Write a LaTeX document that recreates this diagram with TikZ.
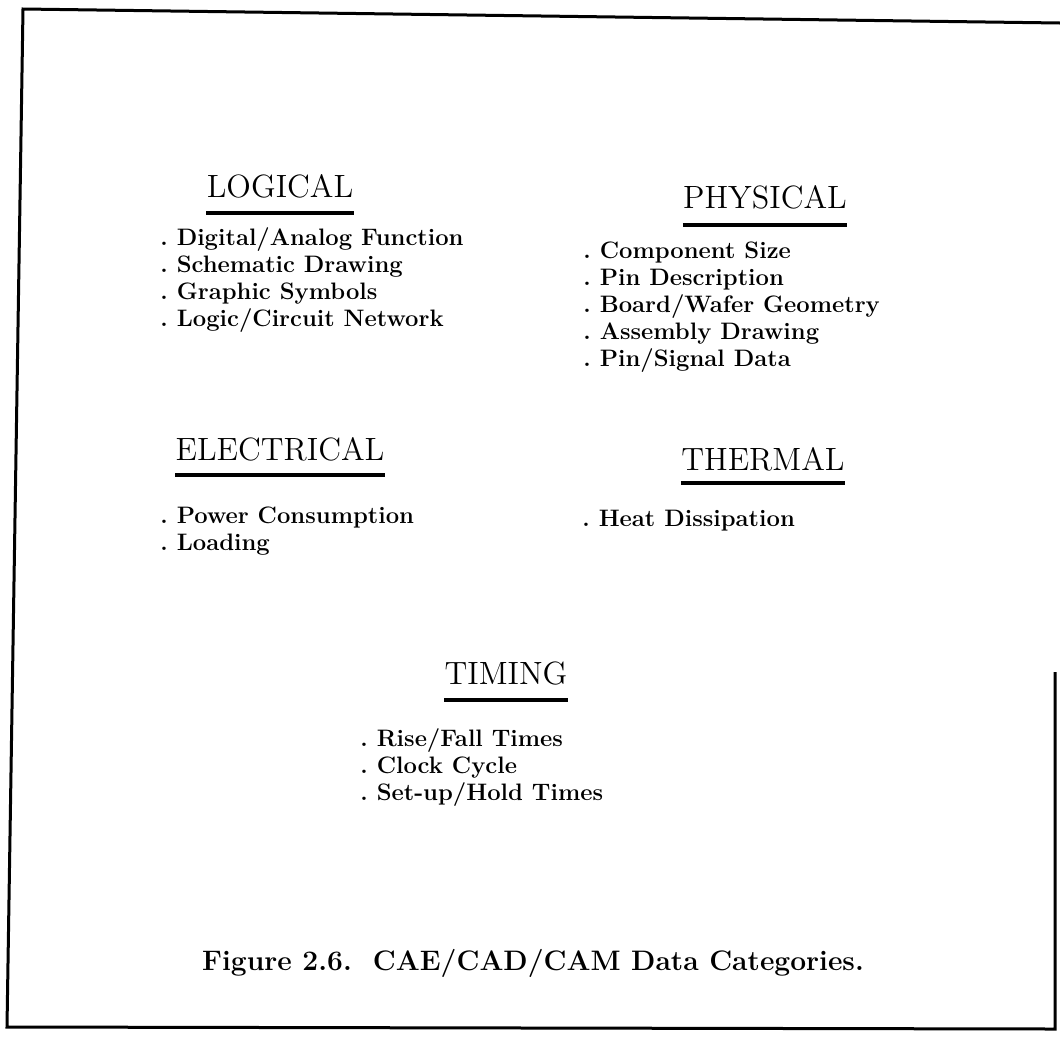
\documentclass[tikz,border=0pt]{standalone}
\usepackage{fontspec}
\newfontfamily\headfont{lmroman12-regular.otf}
\begin{document}
\begin{tikzpicture}[x=0.5pt,y=-0.5pt,
  frame/.style={line width=1.5pt,line join=miter},
  head/.style={anchor=base,inner sep=0pt,font=\headfont\fontsize{16.1}{19}\selectfont},
  rule/.style={line width=1.7pt},
  entry/.style={anchor=base west,inner sep=0pt,font=\bfseries\fontsize{11.9}{14}\selectfont},
  caption/.style={anchor=base,inner sep=0pt,font=\bfseries\fontsize{14.1}{17}\selectfont}]
\useasboundingbox (0,0) rectangle (1060,1040);

% outer frame (right side only partly drawn)
\draw[frame] (1060,23) -- (23,9) -- (7,1027) -- (1055,1029) -- (1055,672);

% category headings with their rules
\node[head] (hlog)  at (280,197) {LOGICAL};
\node[head] (hphy)  at (765,208) {PHYSICAL};
\node[head] (hele)  at (280,460) {ELECTRICAL};
\node[head] (hthe)  at (763,470) {THERMAL};
\node[head] (htim)  at (506,684) {TIMING};
\foreach \h/\d in {hlog/16,hphy/17,hele/15,hthe/13,htim/16}
  \draw[rule] ([yshift=-\d*0.5pt]\h.base west) -- ([yshift=-\d*0.5pt]\h.base east);

% item lists
\foreach \t [count=\i] in {Digital/Analog Function,Schematic Drawing,Graphic Symbols,Logic/Circuit Network}
  \node[entry] (log\i) at (160,245+27*\i-27) {.\ \t};
\foreach \t [count=\i] in {Component Size,Pin Description,Board/Wafer Geometry,Assembly Drawing,Pin/Signal Data}
  \node[entry] (phy\i) at (583,258+27*\i-27) {.\ \t};
\foreach \t [count=\i] in {Power Consumption,Loading}
  \node[entry] (ele\i) at (160,523+27*\i-27) {.\ \t};
\node[entry] (the1) at (582,526) {.\ Heat Dissipation};
\foreach \t [count=\i] in {Rise/Fall Times,Clock Cycle,Set-up/Hold Times}
  \node[entry] (tim\i) at (360,746+27*\i-27) {.\ \t};

% caption
\node[caption] (cap) at (533,970) {Figure 2.6.\ \ CAE/CAD/CAM Data Categories.};
\end{tikzpicture}
\end{document}
